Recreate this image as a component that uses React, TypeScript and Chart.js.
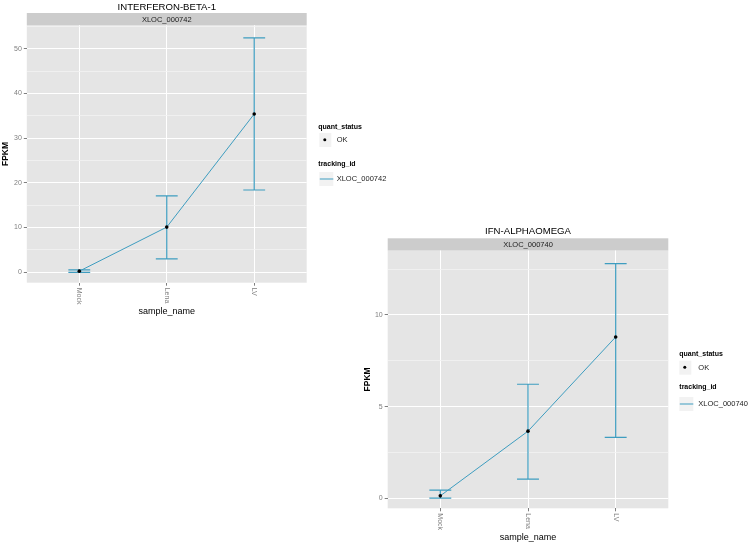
import React, { useEffect, useRef } from "react";
import { Chart, registerables } from "chart.js";

Chart.register(...registerables);

// ---------- data ----------
const categories = ["Mock", "Lena", "LV"];

const ifnbFpkm = [0.25, 10.1, 35.4];
const ifnbLow = [0.0, 3.0, 18.4];
const ifnbHigh = [0.55, 17.1, 52.4];
const ifnbYTicks = [0, 5, 10, 15, 20, 25, 30, 35, 40, 45, 50, 55];
const ifnbYLabels = [0, 10, 20, 30, 40, 50];

const ifnaFpkm = [0.13, 3.66, 8.8];
const ifnaLow = [0.0, 1.04, 3.32];
const ifnaHigh = [0.44, 6.22, 12.8];
const ifnaYTicks = [0, 2.5, 5, 7.5, 10, 12.5];
const ifnaYLabels = [0, 5, 10];

// ---------- styles ----------
const FONT = "'Liberation Sans', Arial, sans-serif";
const LINE_COLOR = "#3E9DC0";
const PANEL_BG = "#E5E5E5";
const STRIP_BG = "#CCCCCC";
const GRID_MAJOR = "#FFFFFF";
const GRID_MINOR = "#F2F2F2";
const TICK_COLOR = "#7F7F7F";
const XAXIS_H = 20;

type PanelCfg = {
  title: string;
  strip: string;
  fpkm: number[];
  low: number[];
  high: number[];
  yMin: number;
  yMax: number;
  yTicks: number[];
  yLabels: number[];
  left: number;
  top: number;
  width: number;
  height: number;
  plotLeft: number;
  plotRight: number;
  plotTop: number;
  plotBottom: number;
  stripTop: number;
  titleY: number;
  yTitleX: number;
  xTitleY: number;
  lg: {
    x: number;
    keyX: number;
    labelX: number;
    titleY: number;
    keyTop: number;
    dotY: number;
    trackTitleY: number;
    trackKeyTop: number;
    lineY: number;
  };
};

const panels: PanelCfg[] = [
  {
    title: "INTERFERON-BETA-1",
    strip: "XLOC_000742",
    fpkm: ifnbFpkm,
    low: ifnbLow,
    high: ifnbHigh,
    yMin: -2.33,
    yMax: 55.23,
    yTicks: ifnbYTicks,
    yLabels: ifnbYLabels,
    left: 0,
    top: 0,
    width: 400,
    height: 325,
    plotLeft: 26.8,
    plotRight: 306.7,
    plotTop: 25.3,
    plotBottom: 282.7,
    stripTop: 13,
    titleY: 7,
    yTitleX: 6,
    xTitleY: 312,
    lg: {
      x: 318.3,
      keyX: 319.3,
      labelX: 336.7,
      titleY: 126.7,
      keyTop: 133,
      dotY: 139.8,
      trackTitleY: 164,
      trackKeyTop: 172,
      lineY: 179,
    },
  },
  {
    title: "IFN-ALPHAOMEGA",
    strip: "XLOC_000740",
    fpkm: ifnaFpkm,
    low: ifnaLow,
    high: ifnaHigh,
    yMin: -0.55,
    yMax: 13.52,
    yTicks: ifnaYTicks,
    yLabels: ifnaYLabels,
    left: 360,
    top: 220,
    width: 391,
    height: 326,
    plotLeft: 27.7,
    plotRight: 308.3,
    plotTop: 30.5,
    plotBottom: 288.3,
    stripTop: 18.3,
    titleY: 11.7,
    yTitleX: 8,
    xTitleY: 317.5,
    lg: {
      x: 319.3,
      keyX: 319.3,
      labelX: 338.3,
      titleY: 134,
      keyTop: 140.7,
      dotY: 147.3,
      trackTitleY: 166.7,
      trackKeyTop: 177,
      lineY: 184,
    },
  },
];

function makePlugin(cfg: PanelCfg) {
  return {
    id: "ggpanel",
    beforeDraw(chart: any) {
      const { ctx, chartArea } = chart;
      ctx.save();
      ctx.fillStyle = PANEL_BG;
      ctx.fillRect(chartArea.left, chartArea.top, chartArea.right - chartArea.left, chartArea.bottom - chartArea.top);
      ctx.fillStyle = STRIP_BG;
      ctx.fillRect(chartArea.left, cfg.stripTop, chartArea.right - chartArea.left, chartArea.top - cfg.stripTop);
      ctx.fillStyle = "#1A1A1A";
      ctx.font = `7.5px ${FONT}`;
      ctx.textAlign = "center";
      ctx.textBaseline = "middle";
      ctx.fillText(cfg.strip, (chartArea.left + chartArea.right) / 2, (cfg.stripTop + chartArea.top) / 2 + 0.5);
      ctx.restore();
    },
    beforeDatasetsDraw(chart: any) {
      const { ctx } = chart;
      const xs = chart.scales.x;
      const ys = chart.scales.y;
      ctx.save();
      ctx.strokeStyle = LINE_COLOR;
      ctx.lineWidth = 1.2;
      categories.forEach((_, i) => {
        const x = xs.getPixelForValue(i);
        const x0 = xs.getPixelForValue(i - 0.125);
        const x1 = xs.getPixelForValue(i + 0.125);
        const yl = ys.getPixelForValue(cfg.low[i]);
        const yh = ys.getPixelForValue(cfg.high[i]);
        ctx.beginPath();
        ctx.moveTo(x, yl);
        ctx.lineTo(x, yh);
        ctx.moveTo(x0, yl);
        ctx.lineTo(x1, yl);
        ctx.moveTo(x0, yh);
        ctx.lineTo(x1, yh);
        ctx.stroke();
      });
      ctx.restore();
    },
    afterDraw(chart: any) {
      const { ctx, chartArea } = chart;
      const xs = chart.scales.x;
      ctx.save();
      // title
      ctx.fillStyle = "#000";
      ctx.font = `9.6px ${FONT}`;
      ctx.textAlign = "center";
      ctx.textBaseline = "middle";
      ctx.fillText(cfg.title, (chartArea.left + chartArea.right) / 2, cfg.titleY);
      // x tick labels (rotated clockwise)
      ctx.fillStyle = TICK_COLOR;
      ctx.font = `7px ${FONT}`;
      categories.forEach((c, i) => {
        const x = xs.getPixelForValue(i);
        ctx.save();
        ctx.translate(x, chartArea.bottom + 5);
        ctx.rotate(Math.PI / 2);
        ctx.textAlign = "left";
        ctx.textBaseline = "middle";
        ctx.fillText(c, 0, 0);
        ctx.restore();
      });
      // axis titles
      ctx.fillStyle = "#000";
      ctx.font = `9px ${FONT}`;
      ctx.textAlign = "center";
      ctx.textBaseline = "middle";
      ctx.fillText("sample_name", (chartArea.left + chartArea.right) / 2, cfg.xTitleY);
      ctx.save();
      ctx.translate(cfg.yTitleX, (chartArea.top + chartArea.bottom) / 2);
      ctx.rotate(-Math.PI / 2);
      ctx.font = `bold 8.5px ${FONT}`;
      ctx.fillText("FPKM", 0, 0);
      ctx.restore();
      // legend
      const lg = cfg.lg;
      ctx.textAlign = "left";
      ctx.textBaseline = "middle";
      ctx.font = `bold 7px ${FONT}`;
      ctx.fillStyle = "#000";
      ctx.fillText("quant_status", lg.x, lg.titleY);
      ctx.fillStyle = "#F2F2F2";
      ctx.fillRect(lg.keyX, lg.keyTop, 12, 14);
      ctx.fillStyle = "#000";
      ctx.beginPath();
      ctx.arc(lg.keyX + 5.5, lg.dotY, 1.5, 0, Math.PI * 2);
      ctx.fill();
      ctx.font = `7.5px ${FONT}`;
      ctx.fillStyle = "#222";
      ctx.fillText("OK", lg.labelX, lg.dotY + 0.3);
      ctx.font = `bold 7px ${FONT}`;
      ctx.fillStyle = "#000";
      ctx.fillText("tracking_id", lg.x, lg.trackTitleY);
      ctx.fillStyle = "#F2F2F2";
      ctx.fillRect(lg.keyX, lg.trackKeyTop, 14, 14);
      ctx.strokeStyle = LINE_COLOR;
      ctx.lineWidth = 1;
      ctx.beginPath();
      ctx.moveTo(lg.keyX + 0.5, lg.lineY);
      ctx.lineTo(lg.keyX + 14, lg.lineY);
      ctx.stroke();
      ctx.font = `7.5px ${FONT}`;
      ctx.fillStyle = "#222";
      ctx.fillText(cfg.strip, lg.labelX, lg.lineY + 0.3);
      ctx.restore();
    },
  };
}

function Panel({ cfg }: { cfg: PanelCfg }) {
  const ref = useRef<HTMLCanvasElement | null>(null);
  useEffect(() => {
    if (!ref.current) return;
    const chart = new Chart(ref.current, {
      type: "line",
      data: {
        datasets: [
          {
            data: cfg.fpkm.map((v, i) => ({ x: i, y: v })),
            borderColor: LINE_COLOR,
            borderWidth: 1,
            pointRadius: 1.8,
            pointBackgroundColor: "#000",
            pointBorderColor: "#000",
            pointBorderWidth: 0,
            pointHoverRadius: 0,
            tension: 0,
            fill: false,
          },
        ],
      },
      options: {
        responsive: false,
        animation: false,
        devicePixelRatio: 1,
        events: [],
        layout: {
          padding: {
            left: 0,
            top: cfg.plotTop,
            right: cfg.width - cfg.plotRight,
            bottom: cfg.height - cfg.plotBottom - XAXIS_H,
          },
        },
        plugins: {
          legend: { display: false },
          tooltip: { enabled: false },
          title: { display: false },
        },
        scales: {
          x: {
            type: "linear",
            min: -0.6,
            max: categories.length - 0.4,
            afterBuildTicks: (s: any) => {
              s.ticks = categories.map((_, i) => ({ value: i }));
            },
            afterFit: (s: any) => {
              s.height = XAXIS_H;
            },
            grid: {
              color: GRID_MAJOR,
              lineWidth: 1,
              tickColor: TICK_COLOR,
              tickLength: 3,
              drawTicks: true,
            },
            border: { display: false },
            ticks: { display: false },
          },
          y: {
            type: "linear",
            min: cfg.yMin,
            max: cfg.yMax,
            afterBuildTicks: (s: any) => {
              s.ticks = cfg.yTicks.map((v) => ({ value: v }));
            },
            afterFit: (s: any) => {
              s.width = cfg.plotLeft;
            },
            grid: {
              color: (c: any) => (cfg.yLabels.includes(c.tick?.value) ? GRID_MAJOR : GRID_MINOR),
              lineWidth: (c: any) => (cfg.yLabels.includes(c.tick?.value) ? 1 : 0.8),
              tickColor: (c: any) => (cfg.yLabels.includes(c.tick?.value) ? TICK_COLOR : "rgba(0,0,0,0)"),
              tickLength: 3,
            },
            border: { display: false },
            ticks: {
              autoSkip: false,
              padding: 2,
              color: TICK_COLOR,
              font: { size: 7, family: FONT },
              callback: (v: any) => (cfg.yLabels.includes(Number(v)) ? String(v) : ""),
            },
          },
        },
      } as any,
      plugins: [makePlugin(cfg)],
    });
    return () => chart.destroy();
  }, [cfg]);
  return (
    <canvas
      ref={ref}
      width={cfg.width}
      height={cfg.height}
      style={{ position: "absolute", left: cfg.left, top: cfg.top, width: cfg.width, height: cfg.height }}
    />
  );
}

export default function App() {
  return (
    <div style={{ position: "absolute", left: 0, top: 0, width: 751, height: 546, background: "#fff" }}>
      {panels.map((p) => (
        <Panel key={p.strip} cfg={p} />
      ))}
    </div>
  );
}
